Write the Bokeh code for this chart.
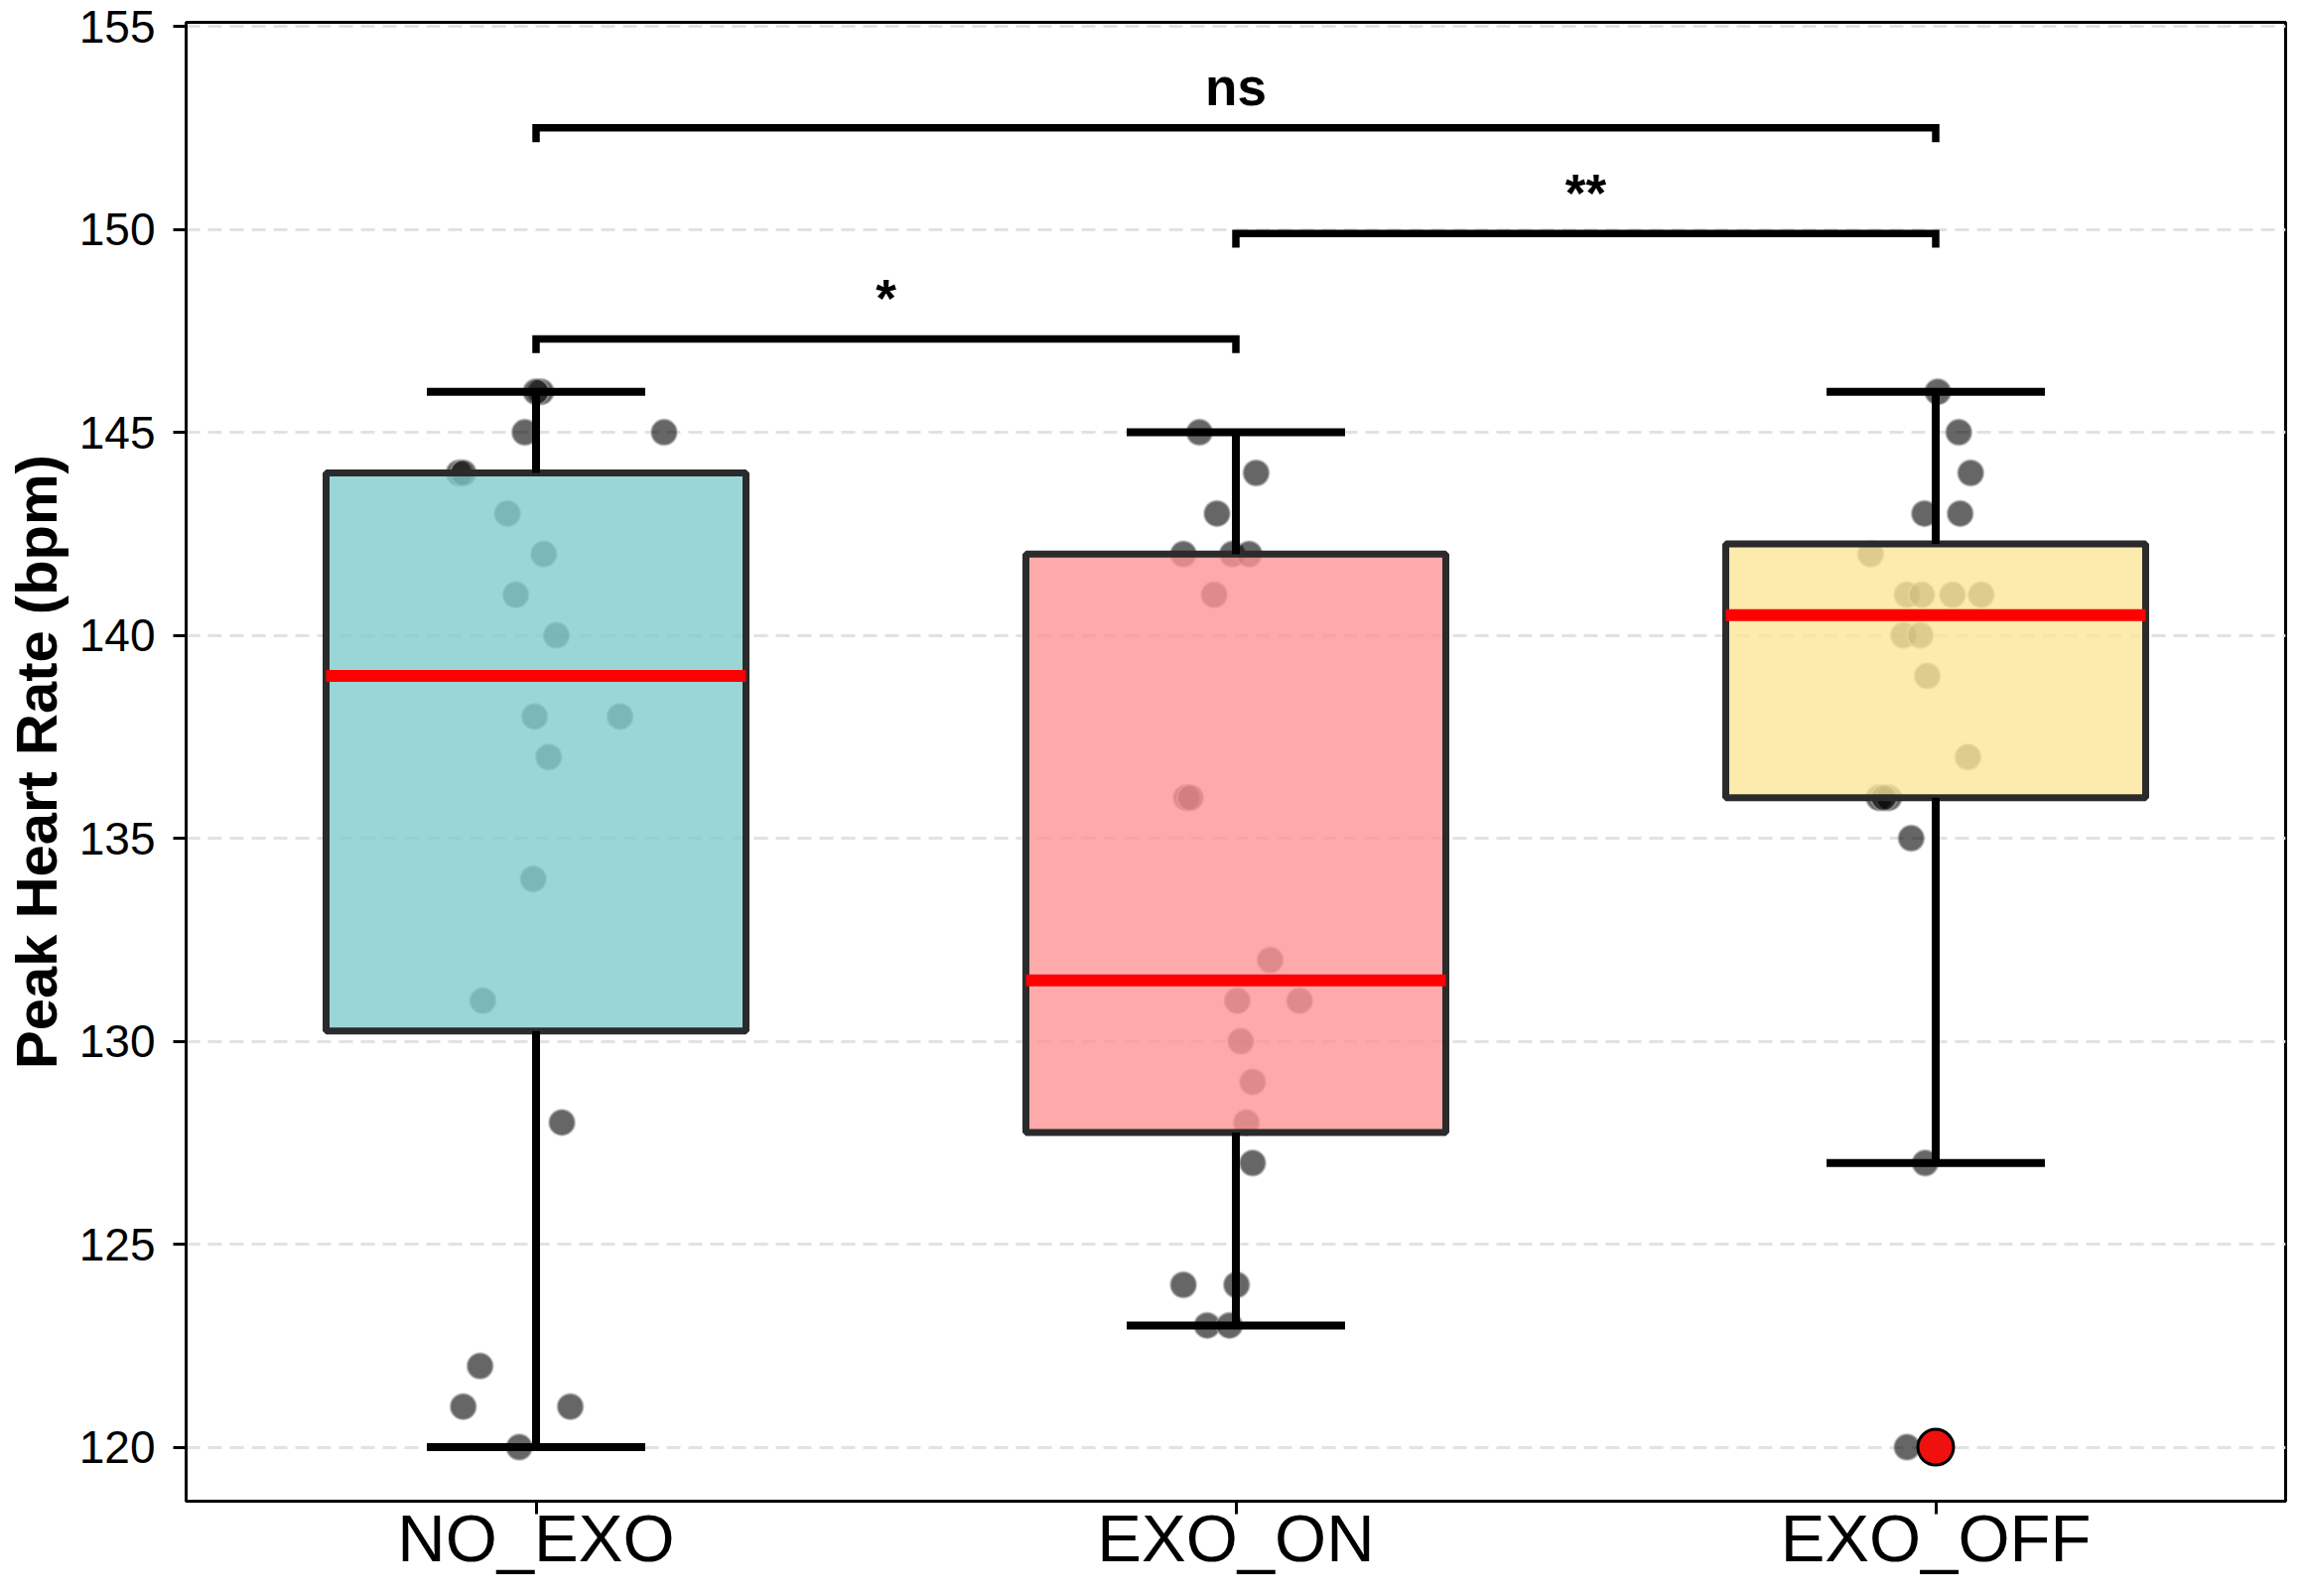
import numpy as np
from bokeh.plotting import figure
from bokeh.models import Range1d, FixedTicker, ColumnDataSource
from bokeh.embed import file_html
from bokeh.resources import INLINE
from bokeh.core.properties import value

# ---------------- data ----------------
categories = ["NO_EXO", "EXO_ON", "EXO_OFF"]

no_exo = [146, 146, 145, 145, 144, 144, 143, 142, 141, 140,
          138, 138, 137, 134, 131, 128, 122, 121, 121, 120]
no_exo_jitter = [0.007, 0.0, -0.016, 0.183, -0.11, -0.104, -0.041, 0.011, -0.029, 0.029,
                 -0.002, 0.12, 0.018, -0.004, -0.076, 0.037, -0.08, -0.104, 0.049, -0.024]

exo_on = [145, 144, 143, 142, 142, 142, 141, 136, 136, 132,
          131, 131, 130, 129, 128, 127, 124, 124, 123, 123]
exo_on_jitter = [-0.052, 0.029, -0.027, -0.075, -0.005, 0.019, -0.031, -0.071, -0.065, 0.049,
                 0.002, 0.091, 0.007, 0.024, 0.015, 0.024, -0.075, 0.001, -0.041, -0.009]

exo_off = [146, 145, 144, 143, 143, 142, 141, 141, 141, 141,
           140, 140, 139, 137, 136, 136, 136, 135, 127, 120]
exo_off_jitter = [0.003, 0.033, 0.05, -0.016, 0.035, -0.093, -0.041, -0.02, 0.024, 0.065,
                  -0.046, -0.022, -0.012, 0.046, -0.081, -0.067, -0.074, -0.035, -0.015, -0.041]

comparisons = [(0, 1, "*"), (1, 2, "**"), (0, 2, "ns")]
y_ticks = [120, 125, 130, 135, 140, 145, 150, 155]

# ---------------- styles ----------------
box_colors = ["#82CCCD", "#FF9595", "#FCE598"]
FONT = "Liberation Sans"

groups = [no_exo, exo_on, exo_off]
jitters = [no_exo_jitter, exo_on_jitter, exo_off_jitter]

p = figure(width=2304, height=1592,
           x_range=Range1d(-0.5, 2.5), y_range=Range1d(118.67, 155.1),
           output_backend="svg", toolbar_location=None,
           min_border_left=182, min_border_right=2,
           min_border_top=22, min_border_bottom=80)
p.background_fill_color = "white"
p.border_fill_color = "white"
p.outline_line_color = "black"
p.outline_line_width = 3
p.outline_line_alpha = 1.0

# axes
p.xaxis.ticker = FixedTicker(ticks=[0, 1, 2])
p.xaxis.major_label_overrides = {i: c for i, c in enumerate(categories)}
p.yaxis.ticker = FixedTicker(ticks=y_ticks)
for ax in (p.xaxis, p.yaxis):
    ax.axis_line_color = "black"
    ax.axis_line_width = 3
    ax.major_tick_line_color = "black"
    ax.major_tick_line_width = 3
    ax.major_tick_out = 13
    ax.major_tick_in = 0
    ax.minor_tick_line_color = None
    ax.major_label_text_font = FONT
    ax.major_label_text_color = "black"
p.xaxis.major_label_text_font_size = "67px"
p.xaxis.major_label_standoff = -14
p.yaxis.major_label_text_font_size = "46px"
p.yaxis.major_label_standoff = 18
p.yaxis.axis_label = "Peak Heart Rate (bpm)"
p.yaxis.axis_label_text_font = FONT
p.yaxis.axis_label_text_font_style = "bold"
p.yaxis.axis_label_text_font_size = "58px"
p.yaxis.axis_label_text_color = "black"
p.yaxis.axis_label_standoff = 8

# grid
p.xgrid.visible = False
p.ygrid.grid_line_color = "#e2e2e2"
p.ygrid.grid_line_dash = "14 8"
p.ygrid.grid_line_width = 3

# ---------------- strip points (behind boxes) ----------------
px, py = [], []
for i, (vals, jit) in enumerate(zip(groups, jitters)):
    px += [i + j for j in jit]
    py += list(vals)
p.scatter(x=px, y=py, size=26, marker="circle", fill_color="black", fill_alpha=0.6,
          line_color="#aaaaaa", line_alpha=0.6, line_width=2)

# ---------------- box statistics ----------------
xs = list(range(len(categories)))
q1s, meds, q3s, lows, highs = [], [], [], [], []
fx, fy = [], []
for i, vals in enumerate(groups):
    a = np.array(vals, dtype=float)
    q1, med, q3 = np.percentile(a, [25, 50, 75])
    iqr = q3 - q1
    lo_f, hi_f = q1 - 1.5 * iqr, q3 + 1.5 * iqr
    inside = a[(a >= lo_f) & (a <= hi_f)]
    q1s.append(q1); meds.append(med); q3s.append(q3)
    lows.append(inside.min()); highs.append(inside.max())
    for v in a[(a < lo_f) | (a > hi_f)]:
        fx.append(i); fy.append(v)

box_src = ColumnDataSource(dict(
    x=xs, left=[x - 0.3 for x in xs], right=[x + 0.3 for x in xs],
    q1=q1s, q3=q3s, med=meds, low=lows, high=highs,
    cl=[x - 0.156 for x in xs], cr=[x + 0.156 for x in xs], color=box_colors))

p.quad(left="left", right="right", bottom="q1", top="q3", source=box_src,
       fill_color="color", fill_alpha=0.8, line_color="#2b2b2b", line_width=7)
p.segment(x0="x", y0="q3", x1="x", y1="high", source=box_src,
          line_color="black", line_width=8)
p.segment(x0="x", y0="q1", x1="x", y1="low", source=box_src,
          line_color="black", line_width=8)
p.segment(x0="cl", y0="high", x1="cr", y1="high", source=box_src,
          line_color="black", line_width=8)
p.segment(x0="cl", y0="low", x1="cr", y1="low", source=box_src,
          line_color="black", line_width=8)
p.segment(x0="left", y0="med", x1="right", y1="med", source=box_src,
          line_color="#ff0000", line_width=12)

# fliers
p.scatter(x=fx, y=fy, size=36, marker="circle", fill_color="#f01010",
          line_color="black", line_width=3)

# ---------------- significance brackets ----------------
all_max = max(max(g) for g in groups)
base = all_max + 1.3
step = 2.6
leg = 0.35
bx, by, tx, ty, tt = [], [], [], [], []
for level, (a_i, b_i, lab) in enumerate(comparisons):
    h = base + level * step
    bx.append([a_i, a_i, b_i, b_i])
    by.append([h - leg, h, h, h - leg])
    tx.append((a_i + b_i) / 2)
    ty.append(h + 1.0)
    tt.append(lab)
p.multi_line(xs=bx, ys=by, line_color="black", line_width=7.5, line_join="miter")
p.text(x=tx, y=ty, text=tt, text_font=value(FONT), text_font_style="bold",
       text_font_size="53px", text_align="center", text_baseline="alphabetic",
       text_color="black")

open("out.html", "w").write(file_html(p, INLINE, title="Peak Heart Rate"))
